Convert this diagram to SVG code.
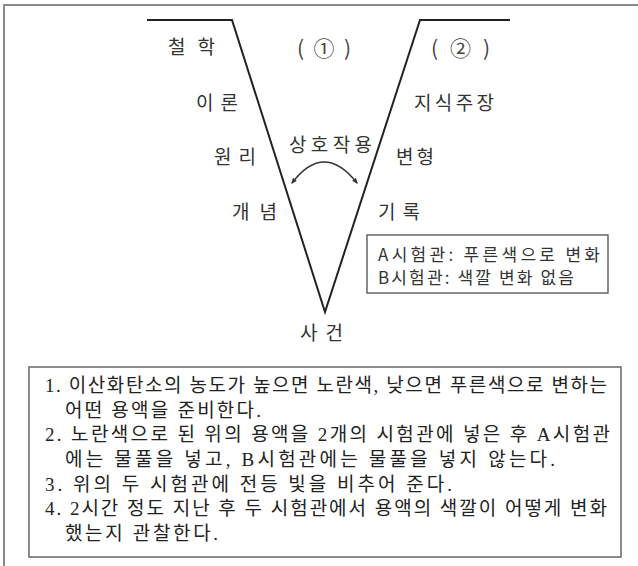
<svg xmlns="http://www.w3.org/2000/svg" width="638" height="566" viewBox="0 0 638 566">
<style>
.lbl{font-family:"Noto Sans CJK KR","Noto Sans",sans-serif;font-size:19px;fill:#333;}
.bx{font-family:"Noto Sans CJK KR","Noto Sans",sans-serif;font-size:17px;fill:#333;}
.num{font-family:"Noto Sans CJK KR","Noto Sans",sans-serif;font-size:21px;fill:#444;}
.body{font-family:"Liberation Serif","Noto Sans CJK KR",serif;font-size:19px;fill:#222;}
.v{fill:none;stroke:#222;stroke-width:2;}
.box{fill:#fff;stroke:#666;stroke-width:1.5;}
</style>
<defs>
<marker id="ah" viewBox="0 0 10 10" refX="8" refY="5" markerWidth="6" markerHeight="6" orient="auto-start-reverse" markerUnits="userSpaceOnUse">
<path d="M0,1 L10,5 L0,9 z" fill="#333"/>
</marker>
</defs>
<rect x="0" y="0" width="638" height="566" fill="#fff"/>
<rect x="4" y="5" width="700" height="700" fill="none" stroke="#8a8a8a" stroke-width="2"/>
<g id="connectors">
<polyline class="v" points="147,20 232,20 325,312 420,20 510,20"/>
<path d="M292,183 Q324,141 357,183" fill="none" stroke="#333" stroke-width="1.5" marker-start="url(#ah)" marker-end="url(#ah)"/>
</g>
<g id="labels-left">
<text class="lbl" x="168" y="54" textLength="47" lengthAdjust="spacing">철학</text>
<text class="lbl" x="196" y="110" textLength="42" lengthAdjust="spacing">이론</text>
<text class="lbl" x="214" y="164" textLength="42" lengthAdjust="spacing">원리</text>
<text class="lbl" x="232" y="219" textLength="45" lengthAdjust="spacing">개념</text>
<text class="lbl" x="300" y="340" textLength="43" lengthAdjust="spacing">사건</text>
</g>
<g id="labels-right">
<text class="lbl" x="414" y="110" textLength="80" lengthAdjust="spacing">지식주장</text>
<text class="lbl" x="396" y="164" textLength="38" lengthAdjust="spacing">변형</text>
<text class="lbl" x="378" y="219" textLength="42" lengthAdjust="spacing">기록</text>
<text class="lbl" x="289" y="152" textLength="83" lengthAdjust="spacing">상호작용</text>
</g>
<g id="heads">
<text class="num" x="297" y="56" textLength="54" lengthAdjust="spacing">(①)</text>
<text class="num" x="431" y="56" textLength="59" lengthAdjust="spacing">(②)</text>
</g>
<g id="result-box">
<rect class="box" x="367" y="235" width="241" height="58"/>
<text class="bx" x="378" y="261" textLength="222" lengthAdjust="spacing">A시험관: 푸른색으로 변화</text>
<text class="bx" x="378" y="284" textLength="196" lengthAdjust="spacing">B시험관: 색깔 변화 없음</text>
</g>
<g id="procedure-box">
<rect class="box" x="29" y="367" width="592" height="190"/>
<text class="body" x="45" y="392" textLength="562" lengthAdjust="spacing">1. 이산화탄소의 농도가 높으면 노란색, 낮으면 푸른색으로 변하는</text>
<text class="body" x="65" y="416.5" textLength="196" lengthAdjust="spacing">어떤 용액을 준비한다.</text>
<text class="body" x="45" y="441" textLength="565" lengthAdjust="spacing">2. 노란색으로 된 위의 용액을 2개의 시험관에 넣은 후 A시험관</text>
<text class="body" x="65" y="466" textLength="490" lengthAdjust="spacing">에는 물풀을 넣고, B시험관에는 물풀을 넣지 않는다.</text>
<text class="body" x="45" y="490.5" textLength="407" lengthAdjust="spacing">3. 위의 두 시험관에 전등 빛을 비추어 준다.</text>
<text class="body" x="45" y="515" textLength="562" lengthAdjust="spacing">4. 2시간 정도 지난 후 두 시험관에서 용액의 색깔이 어떻게 변화</text>
<text class="body" x="65" y="540" textLength="153" lengthAdjust="spacing">했는지 관찰한다.</text>
</g>
</svg>
